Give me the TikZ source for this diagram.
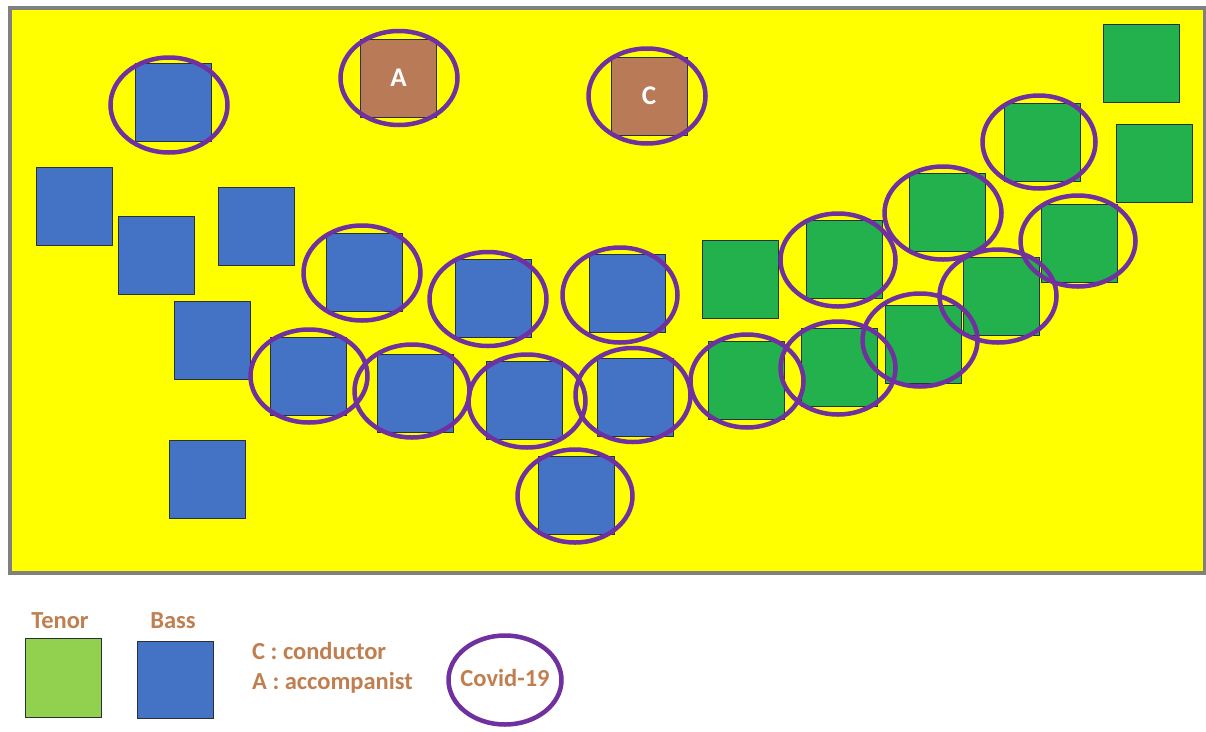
\documentclass[tikz,border=0pt]{standalone}
\usepackage{fontspec}
\setmainfont{Carlito}
\usetikzlibrary{shapes.geometric}
\definecolor{stageyellow}{HTML}{FFFF00}
\definecolor{framegray}{HTML}{808080}
\definecolor{bassblue}{HTML}{4472C4}
\definecolor{tenorgreen}{HTML}{22B14C}
\definecolor{legendgreen}{HTML}{92D050}
\definecolor{leadbrown}{HTML}{B97A57}
\definecolor{covidpurple}{HTML}{7030A0}
\definecolor{labelbrown}{HTML}{C07F50}
\definecolor{edgedark}{HTML}{2A3038}
\tikzset{
  sq/.style={rectangle, draw=edgedark, line width=0.9pt, minimum width=76pt, minimum height=78pt, inner sep=0pt, outer sep=0pt},
  bassbox/.style={sq, fill=bassblue},
  tenorbox/.style={sq, fill=tenorgreen},
  leadbox/.style={sq, fill=leadbrown, text=white, font=\fontsize{27}{30}\selectfont\bfseries},
  covid/.style={ellipse, draw=covidpurple, line width=4.5pt, inner sep=0pt, minimum width=#1},
  covid/.default=117pt,
  legtext/.style={text=labelbrown, font=\fontsize{24.5}{28}\selectfont\bfseries, inner sep=0pt}
}
\begin{document}
\begin{tikzpicture}[x=1pt,y=-1pt]
\useasboundingbox (0,0) rectangle (1206,731);
\fill[white] (0,0) rectangle (1206,731);
% stage
\draw[framegray, line width=4pt, fill=stageyellow] (10,8) rectangle (1205,573);
% bass squares
\node[bassbox] (b1) at (173.5,102.5) {};
\node[bassbox] (b2) at (74.5,206) {};
\node[bassbox] (b3) at (156.5,255.5) {};
\node[bassbox] (b4) at (256.5,226.5) {};
\node[bassbox] (b5) at (212,340) {};
\node[bassbox] (b6) at (207.5,479.5) {};
\node[bassbox] (b7) at (364.5,272.5) {};
\node[bassbox] (b8) at (493,298.5) {};
\node[bassbox] (b9) at (627.5,293) {};
\node[bassbox] (b10) at (308,376) {};
\node[bassbox] (b11) at (415,393) {};
\node[bassbox] (b12) at (524,400) {};
\node[bassbox] (b13) at (635,397) {};
\node[bassbox] (b14) at (576,495.5) {};
% accompanist and conductor
\node[leadbox] (acc) at (398.5,78) {A};
\node[leadbox] (cond) at (649,96) {C};
% tenor squares
\node[tenorbox] (g1) at (1141,63.5) {};
\node[tenorbox] (g2) at (1154.5,163) {};
\node[tenorbox] (g3) at (1042.5,142.5) {};
\node[tenorbox] (g4) at (947,212) {};
\node[tenorbox] (g5) at (1079,243.5) {};
\node[tenorbox] (g6) at (844.5,259) {};
\node[tenorbox] (g7) at (740,279) {};
\node[tenorbox] (g8) at (1001.5,296.5) {};
\node[tenorbox] (g9) at (923,344.5) {};
\node[tenorbox] (g10) at (839.5,367) {};
\node[tenorbox] (g11) at (746,380.5) {};
% covid circles
\node[covid, minimum height=95pt] (eb1) at (169,105) {};
\node[covid, minimum height=94pt] (eacc) at (399,78) {};
\node[covid, minimum height=95pt] (econd) at (647,96) {};
\node[covid, minimum height=95pt] (eb7) at (362,273) {};
\node[covid, minimum height=94pt] (eb8) at (488,299) {};
\node[covid=115pt, minimum height=95pt] (eb9) at (620,295) {};
\node[covid, minimum height=93pt] (eb10) at (309,376) {};
\node[covid=115pt, minimum height=93pt] (eb11) at (412,391) {};
\node[covid, minimum height=93pt] (eb12) at (527,401) {};
\node[covid=115pt, minimum height=94pt] (eb13) at (633,395) {};
\node[covid=115pt, minimum height=93pt] (eb14) at (575,496) {};
\node[covid=113pt, minimum height=93pt] (eg3) at (1039,142) {};
\node[covid, minimum height=93pt] (eg4) at (943,213) {};
\node[covid=115pt, minimum height=91pt] (eg5) at (1078,241) {};
\node[covid=115pt, minimum height=93pt] (eg6) at (838,260) {};
\node[covid, minimum height=93pt] (eg8) at (998,296) {};
\node[covid=115pt, minimum height=93pt] (eg9) at (920,340) {};
\node[covid=115pt, minimum height=93pt] (eg10) at (838,368) {};
\node[covid=113pt, minimum height=93pt] (eg11) at (747,381) {};
% legend
\node[legtext, anchor=base] (tenorlab) at (60,628) {Tenor};
\node[legtext, anchor=base] (basslab) at (173,628) {Bass};
\node[sq, fill=legendgreen, minimum width=76pt, minimum height=79pt] (legtenor) at (63,677.5) {};
\node[sq, fill=bassblue, minimum width=76pt, minimum height=77pt] (legbass) at (175,679.5) {};
\node[legtext, anchor=base west] (condlab) at (252,659) {C : conductor};
\node[legtext, anchor=base west] (acclab) at (252,689) {A : accompanist};
\node[covid=113pt, minimum height=89pt] (legcovid) at (505,680) {};
\node[legtext, anchor=base] (covidlab) at (505,686) {Covid-19};
\end{tikzpicture}
\end{document}
